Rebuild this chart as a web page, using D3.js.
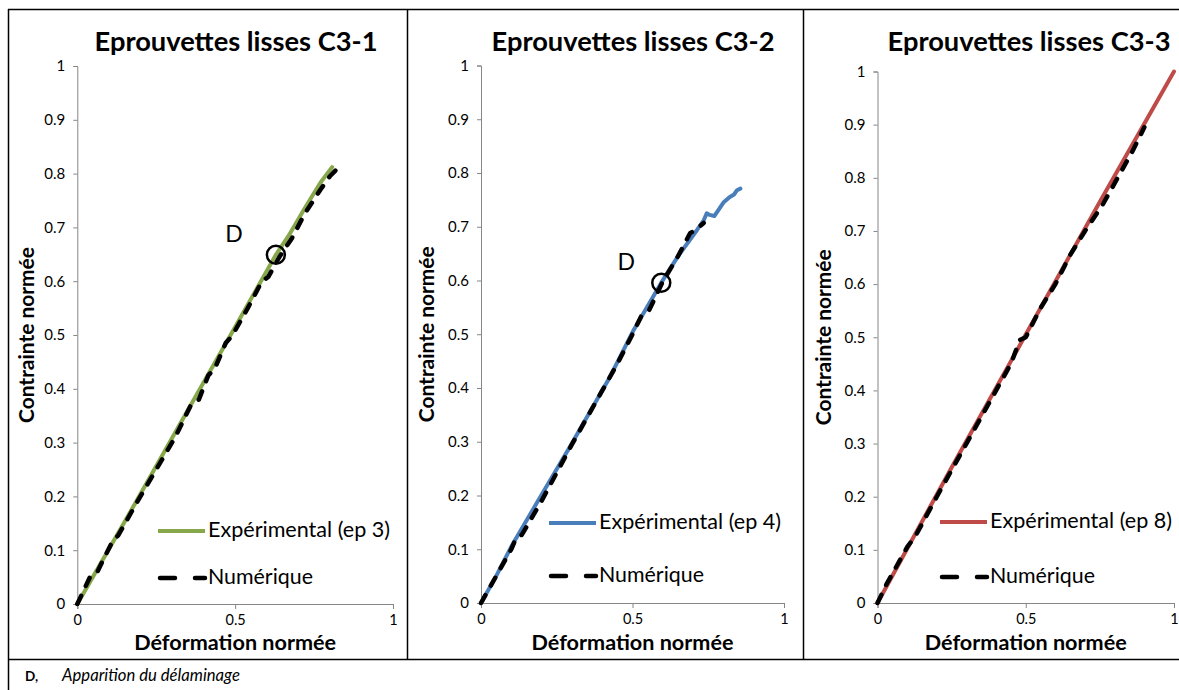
<!DOCTYPE html>
<html><head><meta charset="utf-8">
<script src="https://cdn.jsdelivr.net/npm/d3@7"></script>
<style>
body{margin:0;background:#fff}
svg{display:block}
text{font-family:Lato,"Open Sans","DejaVu Sans",sans-serif;fill:#000}
</style></head>
<body>
<svg id="chart" width="1179" height="690"></svg>
<script>
// ---------- data ----------
const titles = ["Eprouvettes lisses C3-1", "Eprouvettes lisses C3-2", "Eprouvettes lisses C3-3"];
const expLabels = ["Expérimental (ep 3)", "Expérimental (ep 4)", "Expérimental (ep 8)"];
const numLabel = "Numérique";
const xAxisTitle = "Déformation normée";
const yAxisTitle = "Contrainte normée";
const xTicks = [0, 0.5, 1];
const yTicks = [0, 0.1, 0.2, 0.3, 0.4, 0.5, 0.6, 0.7, 0.8, 0.9, 1];
const expColors = ["#86A84A", "#4A7EBB", "#BE4B48"];

const exp1 = [[0,0],[0.16,0.163],[0.35,0.36],[0.5,0.515],[0.629,0.649],[0.67,0.685],[0.72,0.735],[0.77,0.783],[0.807,0.812]];
const num1 = [[0,0],[0.04,0.05],[0.062,0.058],[0.11,0.115],[0.13,0.128],[0.19,0.19],[0.25,0.25],[0.31,0.31],[0.36,0.37],[0.385,0.38],[0.415,0.425],[0.435,0.437],[0.47,0.485],[0.49,0.498],[0.54,0.55],[0.585,0.6],[0.605,0.608],[0.64,0.645],[0.68,0.68],[0.72,0.725],[0.77,0.77],[0.80,0.795],[0.828,0.812]];

const exp2 = [[0,0],[0.05,0.05],[0.1,0.105],[0.184,0.186],[0.294,0.291],[0.426,0.421],[0.504,0.508],[0.595,0.596],[0.65,0.645],[0.713,0.694],[0.735,0.712],[0.745,0.725],[0.755,0.722],[0.77,0.72],[0.78,0.728],[0.8,0.745],[0.82,0.755],[0.835,0.76],[0.845,0.768],[0.856,0.771]];
const num2 = [[0,0],[0.03,0.03],[0.1,0.1],[0.115,0.12],[0.135,0.127],[0.2,0.19],[0.3,0.295],[0.4,0.395],[0.45,0.445],[0.5,0.5],[0.53,0.535],[0.555,0.545],[0.6,0.598],[0.65,0.645],[0.69,0.688],[0.71,0.695],[0.735,0.707]];

const exp3 = [[0,0],[0.25,0.255],[0.5,0.505],[0.75,0.755],[1,1]];
const num3 = [[0,0],[0.03,0.035],[0.06,0.065],[0.1,0.105],[0.13,0.128],[0.2,0.2],[0.3,0.3],[0.36,0.36],[0.4,0.4],[0.45,0.45],[0.48,0.495],[0.5,0.5],[0.55,0.555],[0.6,0.6],[0.65,0.655],[0.7,0.7],[0.76,0.75],[0.82,0.81],[0.86,0.85],[0.9,0.895]];

const delam = [[0.629,0.649],[0.595,0.596],null];
const delamLabel = "D";
const captionKey = "D,";
const captionText = "Apparition du délaminage";

// ---------- layout ----------
const svg = d3.select("#chart");
const panels = [
  {x0:77.3, x1:393, yT:66, yB:604, exp:exp1, num:num1, cx:236, ylx:34, legY:531, legX:158, numY:578, dOff:[-42,-21]},
  {x0:481, x1:784, yT:65.5, yB:603, exp:exp2, num:num2, cx:633, ylx:434, legY:523, legX:549, numY:576, dOff:[-35,-21]},
  {x0:877.5, x1:1174, yT:71.5, yB:603, exp:exp3, num:num3, cx:1029, ylx:831, legY:522, legX:940, numY:577, dOff:[0,0]}
];

function fit(sel, w){
  const len = sel.node().getComputedTextLength();
  const fs = parseFloat(sel.attr("font-size"));
  sel.attr("font-size", (fs * w / len).toFixed(2));
  return sel;
}

// borders
const bc = "#000";
svg.append("line").attr("x1",8).attr("x2",1179).attr("y1",9.5).attr("y2",9.5).attr("stroke",bc).attr("stroke-width",1.5);
svg.append("line").attr("x1",8.5).attr("x2",8.5).attr("y1",9).attr("y2",690).attr("stroke",bc).attr("stroke-width",1.5);
svg.append("line").attr("x1",407.5).attr("x2",407.5).attr("y1",9).attr("y2",659).attr("stroke",bc).attr("stroke-width",1.5);
svg.append("line").attr("x1",803.5).attr("x2",803.5).attr("y1",9).attr("y2",659).attr("stroke",bc).attr("stroke-width",1.5);
svg.append("line").attr("x1",8).attr("x2",1179).attr("y1",659.5).attr("y2",659.5).attr("stroke",bc).attr("stroke-width",1.5);

panels.forEach((p, i) => {
  const x = d3.scaleLinear().domain([0,1]).range([p.x0, p.x1]);
  const y = d3.scaleLinear().domain([0,1]).range([p.yB, p.yT]);
  const g = svg.append("g");

  // y axis
  const ya = g.append("g").attr("transform", `translate(${p.x0},0)`)
    .call(d3.axisLeft(y).tickValues(yTicks).tickSize(4).tickPadding(8).tickFormat(d => +d.toFixed(1) + ""));
  ya.select(".domain").attr("stroke", "#868686");
  ya.selectAll(".tick line").attr("stroke", "#868686");
  ya.selectAll(".tick text").attr("font-size", 15).attr("font-family", "Lato,'Open Sans',sans-serif").attr("fill","#000");

  // x axis
  const xa = g.append("g").attr("transform", `translate(0,${p.yB})`)
    .call(d3.axisBottom(x).tickValues(xTicks).tickSize(5).tickPadding(6).tickFormat(d => d + ""));
  xa.select(".domain").attr("stroke", "#868686");
  xa.selectAll(".tick line").attr("stroke", "#868686");
  xa.selectAll(".tick text").attr("font-size", 14.5).attr("font-family", "Lato,'Open Sans',sans-serif").attr("fill","#000");

  const line = d3.line().x(d => x(d[0])).y(d => y(d[1]));
  g.append("path").datum(p.exp).attr("d", line).attr("fill","none")
    .attr("stroke", expColors[i]).attr("stroke-width", 4).attr("stroke-linejoin","round").attr("stroke-linecap","round");
  g.append("path").datum(p.num).attr("d", line).attr("fill","none")
    .attr("stroke", "#000").attr("stroke-width", 4.5).attr("stroke-dasharray","9,11")
    .attr("stroke-linejoin","round").attr("stroke-linecap","round");

  // D marker
  if (delam[i]) {
    const cx = x(delam[i][0]), cy = y(delam[i][1]);
    g.append("circle").attr("cx", cx).attr("cy", cy).attr("r", 9)
      .attr("fill","none").attr("stroke","#000").attr("stroke-width",2.5);
    g.append("text").attr("x", cx + p.dOff[0]).attr("y", cy + p.dOff[1] + 8.5)
      .attr("text-anchor","middle").attr("font-size", 23).text(delamLabel);
  }

  // title
  const t = g.append("text").attr("x", p.cx).attr("y", 51).attr("text-anchor","middle")
    .attr("font-weight","bold").attr("font-size", 24).text(titles[i]);
  fit(t, 283);

  // axis titles
  const xt = g.append("text").attr("x", (p.x0 + p.x1)/2).attr("y", 650).attr("text-anchor","middle")
    .attr("font-weight","bold").attr("font-size", 18).text(xAxisTitle);
  fit(xt, 202);
  const ytt = g.append("text").attr("transform", `translate(${p.ylx},${(p.yT + p.yB)/2}) rotate(-90)`)
    .attr("text-anchor","middle").attr("font-weight","bold").attr("font-size", 18).text(yAxisTitle);
  fit(ytt, 176);

  // legend
  g.append("line").attr("x1", p.legX).attr("x2", p.legX + 47).attr("y1", p.legY).attr("y2", p.legY)
    .attr("stroke", expColors[i]).attr("stroke-width", 4);
  const lt = g.append("text").attr("x", p.legX + 50).attr("y", p.legY + 6).attr("font-size", 17).text(expLabels[i]);
  fit(lt, 182);
  g.append("line").attr("x1", p.legX + 2).attr("x2", p.legX + 47).attr("y1", p.numY).attr("y2", p.numY)
    .attr("stroke", "#000").attr("stroke-width", 4.5).attr("stroke-dasharray","15,20").attr("stroke-linecap","round");
  const nt = g.append("text").attr("x", p.legX + 50).attr("y", p.numY + 6).attr("font-size", 17).text(numLabel);
  fit(nt, 105);
});

// caption
svg.append("text").attr("x", 25).attr("y", 681).attr("font-size", 13.5).attr("font-weight","bold").text(captionKey);
const ct = svg.append("text").attr("x", 62).attr("y", 681).attr("font-size", 12).attr("font-style","italic").text(captionText);
fit(ct, 178);
</script>
</body></html>
